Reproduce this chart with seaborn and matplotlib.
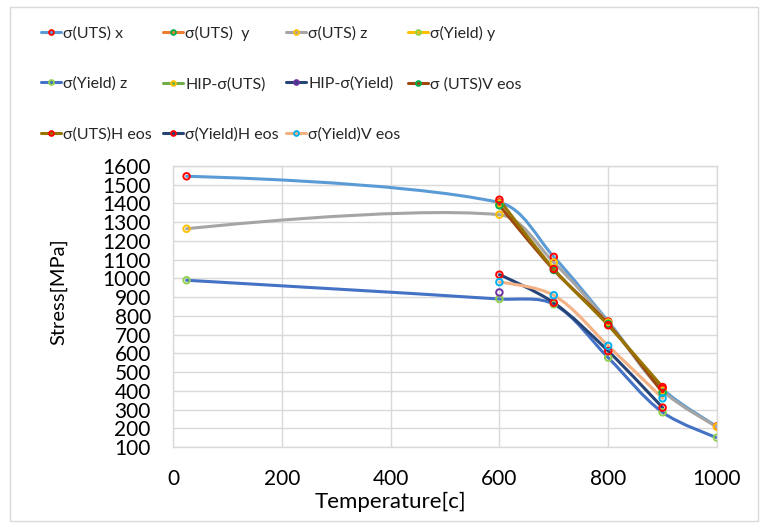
import numpy as np
import pandas as pd
import matplotlib
matplotlib.use("Agg")
import matplotlib.pyplot as plt
import seaborn as sns
from matplotlib.path import Path
from matplotlib.patches import PathPatch, Rectangle
from matplotlib.lines import Line2D

# Series (temperature in C, stress in MPa)
labels = ["σ(UTS) x", "σ(UTS)  y", "σ(UTS) z", "σ(Yield) y",
          "σ(Yield) z", "HIP-σ(UTS)", "HIP-σ(Yield)", "σ (UTS)V eos",
          "σ(UTS)H eos", "σ(Yield)H eos", "σ(Yield)V eos"]

uts_x_t = [25, 600, 700, 800, 900, 1000]
uts_x_s = [1545, 1405, 1115, 770, 410, 210]

uts_y_t = []
uts_y_s = []

uts_z_t = [25, 600, 700, 800, 900, 1000]
uts_z_s = [1265, 1340, 1085, 765, 400, 208]

yield_y_t = []
yield_y_s = []

yield_z_t = [25, 600, 700, 800, 900, 1000]
yield_z_s = [990, 890, 862, 577, 285, 150]

hip_uts_t = [600]
hip_uts_s = [1400]

hip_yield_t = [600]
hip_yield_s = [925]

uts_v_t = [600, 700, 800, 900]
uts_v_s = [1390, 1045, 757, 390]

uts_h_t = [600, 700, 800, 900]
uts_h_s = [1420, 1050, 750, 420]

yield_h_t = [600, 700, 800, 900]
yield_h_s = [1020, 870, 612, 310]

yield_v_t = [600, 700, 800, 900]
yield_v_s = [980, 910, 640, 360]

line_colors = ["#5B9BD5", "#ED7D31", "#A5A5A5", "#FFC000", "#4472C4", "#70AD47",
               "#264478", "#9E480E", "#997300", "#264478", "#F4B183"]
marker_colors = ["#FF0000", "#00B050", "#FFC000", "#92D050", "#92D050", "#FFC000",
                 "#7030A0", "#00B050", "#FF0000", "#FF0000", "#00B0F0"]

series = [(uts_x_t, uts_x_s), (uts_y_t, uts_y_s), (uts_z_t, uts_z_s),
          (yield_y_t, yield_y_s), (yield_z_t, yield_z_s), (hip_uts_t, hip_uts_s),
          (hip_yield_t, hip_yield_s), (uts_v_t, uts_v_s), (uts_h_t, uts_h_s),
          (yield_h_t, yield_h_s), (yield_v_t, yield_v_s)]

sns.set_theme(style="white")
plt.rcParams['font.family'] = ['Lato', 'DejaVu Sans']

fig = plt.figure(figsize=(7.6, 5.23), dpi=100)
ax = fig.add_axes([173 / 760, 1 - 447 / 523, 544 / 760, 281 / 523])

# outer chart border
fig.patches.append(Rectangle((10 / 760, 2 / 523), 748 / 760, 514 / 523,
                             transform=fig.transFigure, fill=False,
                             edgecolor="#D9D9D9", lw=1))

XMIN, XMAX, YMIN, YMAX = 0, 1000, 100, 1600
# pixel scale used to weight the smoothing tangents
sx, sy = 544 / (XMAX - XMIN), 281 / (YMAX - YMIN)


def smooth_path(t, s):
    """Bezier path through the points, similar to Excel's smoothed line."""
    p = np.column_stack([t, s]).astype(float)
    n = len(p)
    verts = [p[0]]
    codes = [Path.MOVETO]

    def dist(a, b):
        return np.hypot((a[0] - b[0]) * sx, (a[1] - b[1]) * sy)

    for i in range(n - 1):
        p0 = p[i - 1] if i > 0 else p[i]
        p1, p2 = p[i], p[i + 1]
        p3 = p[i + 2] if i + 2 < n else p[i + 1]
        d01, d12, d23 = dist(p0, p1), dist(p1, p2), dist(p2, p3)
        f1 = d12 / (d01 + d12) / 3 if d01 > 0 else 0
        f2 = d12 / (d12 + d23) / 3 if d23 > 0 else 0
        c1 = p1 + (p2 - p0) * f1
        c2 = p2 - (p3 - p1) * f2
        verts += [c1, c2, p2]
        codes += [Path.CURVE4] * 3
    return Path(verts, codes)


for i, ((t, s), lc, mc) in enumerate(zip(series, line_colors, marker_colors)):
    if len(t) > 1:
        ax.add_patch(PathPatch(smooth_path(t, s), fill=False, edgecolor=lc,
                               lw=2.2, zorder=2 + i * 0.1, capstyle='round'))
    if len(t) > 0:
        df = pd.DataFrame({"t": t, "s": s})
        sns.scatterplot(data=df, x="t", y="s", ax=ax, marker="o", s=22,
                        facecolor="none", edgecolor=mc, linewidth=1.4,
                        zorder=5 + i * 0.1)

ax.set_xlim(XMIN, XMAX)
ax.set_ylim(YMIN, YMAX)
ax.set_xticks(range(0, 1001, 200))
ax.set_yticks(range(100, 1601, 100))
ax.grid(True, color="#D9D9D9", lw=1)
ax.set_axisbelow(True)
for sp in ax.spines.values():
    sp.set_color("#D9D9D9")
    sp.set_linewidth(1)
ax.tick_params(axis='both', length=0, pad=16, labelsize=15, labelcolor="black")

ax.set_xlabel("Temperature[c]", fontsize=16, color="black")
ax.set_ylabel("Stress[MPa]", fontsize=14.5, color="black")
ax.xaxis.set_label_coords((390 - 173) / 544, (447 - 492) / 281)
ax.yaxis.set_label_coords((67 - 173) / 544, (447 - 292) / 281)

handles = [Line2D([0], [0], color=lc, lw=2.2, marker="o", markersize=3.5,
                  markerfacecolor="none", markeredgecolor=mc, markeredgewidth=1.3)
           for lc, mc in zip(line_colors, marker_colors)]

# one legend per column, so the columns sit on a fixed grid like the original
col_x = [41, 163, 286, 408]
for c, x0 in enumerate(col_x):
    idx = list(range(c, len(labels), 4))
    leg = fig.legend([handles[k] for k in idx], [labels[k] for k in idx],
                     loc="upper left", bbox_to_anchor=(x0 / 760, 1 - 26 / 523),
                     ncol=1, frameon=False, handlelength=1.25, fontsize=11.5,
                     handletextpad=0.15, labelspacing=2.26,
                     borderaxespad=0, borderpad=0)

fig.savefig("out.png", dpi=100)
